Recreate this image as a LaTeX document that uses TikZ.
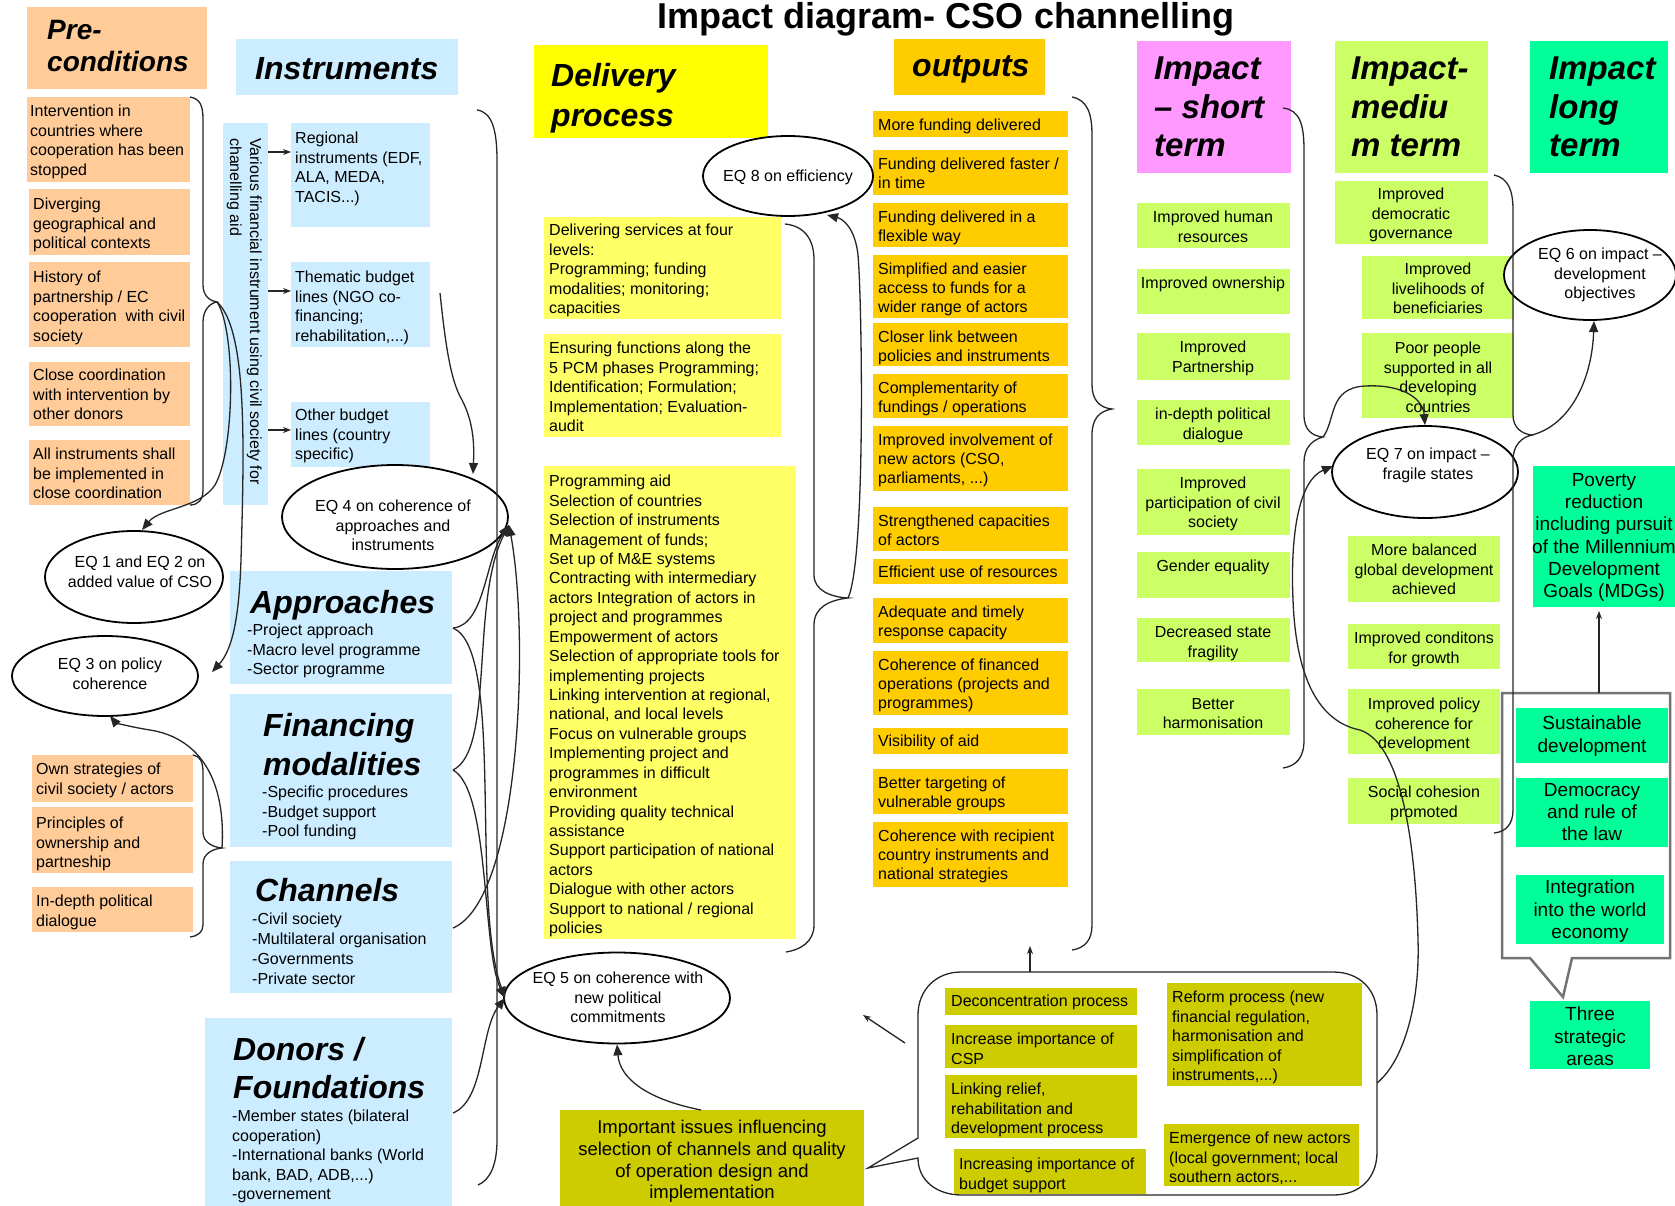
\documentclass[tikz,border=0pt]{standalone}
\usepackage{fontspec}
\setmainfont{Liberation Sans}
\usetikzlibrary{arrows.meta,shapes.geometric,fit,calc}
\definecolor{cOr}{HTML}{FFCC99}
\definecolor{cBl}{HTML}{CCECFF}
\definecolor{cYh}{HTML}{FFFF00}
\definecolor{cYl}{HTML}{FFFF66}
\definecolor{cOu}{HTML}{FFCC00}
\definecolor{cPk}{HTML}{FF99FF}
\definecolor{cLg}{HTML}{CCFF66}
\definecolor{cGr}{HTML}{00FF99}
\definecolor{cOl}{HTML}{CCCC00}
\newcommand\mybox[4]{\node[fit={#2 #3}, inner sep=0pt, outer sep=0pt, fill=#4] (#1) {};}
\tikzset{
  t/.style={inner sep=0pt, font=\fontsize{16}{19.5}\selectfont, align=left, anchor=north west},
  tc/.style={t, align=center, anchor=north},
  tb/.style={inner sep=0pt, font=\fontsize{19}{22.3}\selectfont, align=center, anchor=north},
  hd/.style={inner sep=0pt, font=\fontsize{32}{39}\selectfont\bfseries\itshape, align=left, anchor=north west},
  eq/.style={ellipse, draw=black, line width=1.8pt, fill=white, inner sep=0pt},
  con/.style={draw=black!85, line width=1.3pt},
  arr/.style={con, -{Triangle[length=11pt,width=9pt]}},
  sarr/.style={con, -{Stealth[length=8pt,width=6pt]}},
}
\begin{document}
\begin{tikzpicture}[x=1pt,y=-1pt]
\fill[white] (0,0) rectangle (1675,1206);
\useasboundingbox (0,0) rectangle (1675,1206);

% ---------- title
\node[inner sep=0pt, font=\fontsize{36}{40}\selectfont\bfseries, anchor=base] (title) at (946,29) {Impact diagram- CSO channelling};

% ---------- callouts (background shapes)
\draw[draw=black!55, line width=2.5pt, fill=white] (1502,693) -- (1670,693) -- (1670,958) -- (1572,958) -- (1563,997) -- (1530,958) -- (1502,958) -- cycle;
\coordinate (ctop) at (1599,693);
\draw[con, fill=white] (961,972) -- (1333,972) .. controls (1360,972) and (1377,990) .. (1377,1015) -- (1377,1152) .. controls (1377,1178) and (1360,1195) .. (1333,1195) -- (962,1195) .. controls (936,1195) and (918,1180) .. (918,1158) -- (868,1168) -- (918,1138) -- (918,1015) .. controls (918,990) and (936,972) .. (961,972) -- cycle;
\coordinate (bubtop) at (1030,972);
\coordinate (bubleft) at (905,1043);
\coordinate (bubright) at (1377,1083);

% ---------- Pre-conditions
\mybox{pre}{(27,7)}{(207,89)}{cOr}
\node[hd, font=\fontsize{28}{32}\selectfont\bfseries\itshape] (pre-t) at (47,20) {Pre-\\conditions};
\mybox{intv}{(27,97)}{(190,182)}{cOr}
\node[t] (intv-t) at (30,105) {Intervention in\\countries where\\cooperation has been\\stopped};
\mybox{div}{(29,189)}{(190,255)}{cOr}
\node[t] (div-t) at (33,198) {Diverging\\geographical and\\political contexts};
\mybox{hist}{(29,262)}{(190,347)}{cOr}
\node[t] (hist-t) at (33,271) {History of\\partnership / EC\\cooperation~~with civil\\society};
\mybox{clo}{(29,362)}{(190,426)}{cOr}
\node[t] (clo-t) at (33,369) {Close coordination\\with intervention by\\other donors};
\mybox{all}{(29,440)}{(190,505)}{cOr}
\node[t] (all-t) at (33,448) {All instruments shall\\be implemented in\\close coordination};
\mybox{own}{(32,755)}{(193,802)}{cOr}
\node[t] (own-t) at (36,763) {Own strategies of\\civil society / actors};
\mybox{prin}{(32,807)}{(193,873)}{cOr}
\node[t] (prin-t) at (36,817) {Principles of\\ownership and\\partneship};
\mybox{dep}{(32,887)}{(193,932)}{cOr}
\node[t] (dep-t) at (36,895) {In-depth political\\dialogue};

% ---------- Instruments
\mybox{ins}{(236,39)}{(458,95)}{cBl}
\node[hd] (ins-t) at (255,57) {Instruments};
\mybox{bar}{(223,123)}{(268,505)}{cBl}
\node[t, rotate=-90, font=\fontsize{16}{20}\selectfont] (bar-t) at (262,138) {Various financial instrument using civil society for\\chanelling aid};
\mybox{reg}{(291,123)}{(430,227)}{cBl}
\node[t] (reg-t) at (295,132) {Regional\\instruments (EDF,\\ALA, MEDA,\\TACIS...)};
\mybox{them}{(291,262)}{(430,347)}{cBl}
\node[t] (them-t) at (295,271) {Thematic budget\\lines (NGO co-\\financing;\\rehabilitation,...)};
\mybox{oth}{(291,402)}{(430,467)}{cBl}
\node[t] (oth-t) at (295,409) {Other budget\\lines (country\\specific)};
\mybox{appr}{(230,571)}{(452,684)}{cBl}
\node[hd] (appr-h) at (250,590) {Approaches};
\node[t] (appr-t) at (247,624) {-Project approach\\-Macro level programme\\-Sector programme};
\mybox{fin}{(230,694)}{(452,847)}{cBl}
\node[hd] (fin-h) at (263,713) {Financing\\modalities};
\node[t] (fin-t) at (262,786) {-Specific procedures\\-Budget support\\-Pool funding};
\mybox{chan}{(230,861)}{(452,993)}{cBl}
\node[hd] (chan-h) at (255,878) {Channels};
\node[t, font=\fontsize{16}{19.8}\selectfont] (chan-t) at (252,913) {-Civil society\\-Multilateral organisation\\-Governments\\-Private sector};
\mybox{don}{(205,1018)}{(452,1206)}{cBl}
\node[hd, font=\fontsize{32}{38}\selectfont\bfseries\itshape] (don-h) at (233,1037) {Donors /\\Foundations};
\node[t] (don-t) at (232,1110) {-Member states (bilateral\\cooperation)\\-International banks (World\\bank, BAD, ADB,...)\\-governement};

% ---------- Delivery process
\mybox{delh}{(534,45)}{(768,138)}{cYh}
\node[hd, font=\fontsize{32}{40}\selectfont\bfseries\itshape] (delh-t) at (551,63) {Delivery\\process};
\mybox{del1}{(544,217)}{(781,319)}{cYl}
\node[t] (del1-t) at (549,224) {Delivering services at four\\levels:\\Programming; funding\\modalities; monitoring;\\capacities};
\mybox{del2}{(544,334)}{(781,437)}{cYl}
\node[t] (del2-t) at (549,342) {Ensuring functions along the\\5 PCM phases Programming;\\Identification; Formulation;\\Implementation; Evaluation-\\audit};
\mybox{del3}{(544,466)}{(796,939)}{cYl}
\node[t, font=\fontsize{16}{19.43}\selectfont] (del3-t) at (549,475) {Programming aid\\Selection of countries\\Selection of instruments\\Management of funds;\\Set up of M\&E systems\\Contracting with intermediary\\actors Integration of actors in\\project and programmes\\Empowerment of actors\\Selection of appropriate tools for\\implementing projects\\Linking intervention at regional,\\national, and local levels\\Focus on vulnerable groups\\Implementing project and\\programmes in difficult\\environment\\Providing quality technical\\assistance\\Support participation of national\\actors\\Dialogue with other actors\\Support to national / regional\\policies};

% ---------- Outputs
\mybox{outh}{(894,39)}{(1045,95)}{cOu}
\node[hd, anchor=base west] (outh-t) at (912,77) {outputs};
\tikzset{ot/.style={t, font=\fontsize{16}{19}\selectfont}}
\mybox{o1}{(873,111)}{(1068,137)}{cOu}   \node[ot] (o1-t) at (878,119) {More funding delivered};
\mybox{o2}{(873,150)}{(1068,195)}{cOu}   \node[ot] (o2-t) at (878,158) {Funding delivered faster /\\in time};
\mybox{o3}{(873,203)}{(1068,247)}{cOu}   \node[ot] (o3-t) at (878,211) {Funding delivered in a\\flexible way};
\mybox{o4}{(873,255)}{(1068,318)}{cOu}   \node[ot] (o4-t) at (878,263) {Simplified and easier\\access to funds for a\\wider range of actors};
\mybox{o5}{(873,323)}{(1068,366)}{cOu}   \node[ot] (o5-t) at (878,331) {Closer link between\\policies and instruments};
\mybox{o6}{(873,374)}{(1068,418)}{cOu}   \node[ot] (o6-t) at (878,382) {Complementarity of\\fundings / operations};
\mybox{o7}{(873,426)}{(1068,491)}{cOu}   \node[ot] (o7-t) at (878,434) {Improved involvement of\\new actors (CSO,\\parliaments, ...)};
\mybox{o8}{(873,507)}{(1068,551)}{cOu}   \node[ot] (o8-t) at (878,515) {Strengthened capacities\\of actors};
\mybox{o9}{(873,559)}{(1068,584)}{cOu}   \node[ot] (o9-t) at (878,566) {Efficient use of resources};
\mybox{o10}{(873,598)}{(1068,643)}{cOu}  \node[ot] (o10-t) at (878,606) {Adequate and timely\\response capacity};
\mybox{o11}{(873,651)}{(1068,715)}{cOu}  \node[ot] (o11-t) at (878,659) {Coherence of financed\\operations (projects and\\programmes)};
\mybox{o12}{(873,728)}{(1068,754)}{cOu}  \node[ot] (o12-t) at (878,735) {Visibility of aid};
\mybox{o13}{(873,769)}{(1068,814)}{cOu}  \node[ot] (o13-t) at (878,777) {Better targeting of\\vulnerable groups};
\mybox{o14}{(873,822)}{(1068,887)}{cOu}  \node[ot] (o14-t) at (878,830) {Coherence with recipient\\country instruments and\\national strategies};

% ---------- Impact short term
\mybox{ish}{(1137,41)}{(1291,173)}{cPk}
\node[hd, font=\fontsize{33}{38.5}\selectfont\bfseries\itshape] (ish-t) at (1154,57) {Impact\\-- short\\term};
\mybox{s1}{(1137,203)}{(1290,248)}{cLg} \node[tc] (s1-t) at (1213,211) {Improved human\\resources};
\mybox{s2}{(1137,269)}{(1290,314)}{cLg} \node[tc] (s2-t) at (1213,277) {Improved ownership};
\mybox{s3}{(1137,333)}{(1290,380)}{cLg} \node[tc] (s3-t) at (1213,341) {Improved\\Partnership};
\mybox{s4}{(1137,400)}{(1290,445)}{cLg} \node[tc] (s4-t) at (1213,408) {in-depth political\\dialogue};
\mybox{s5}{(1137,469)}{(1290,535)}{cLg} \node[tc] (s5-t) at (1213,477) {Improved\\participation of civil\\society};
\mybox{s6}{(1137,552)}{(1290,598)}{cLg} \node[tc] (s6-t) at (1213,560) {Gender equality};
\mybox{s7}{(1137,618)}{(1290,662)}{cLg} \node[tc] (s7-t) at (1213,626) {Decreased state\\fragility};
\mybox{s8}{(1137,689)}{(1290,735)}{cLg} \node[tc] (s8-t) at (1213,698) {Better\\harmonisation};

% ---------- Impact medium term
\mybox{imh}{(1335,41)}{(1488,173)}{cLg}
\node[hd, font=\fontsize{33}{38.5}\selectfont\bfseries\itshape] (imh-t) at (1351,57) {Impact-\\mediu\\m term};
\mybox{m1}{(1335,181)}{(1488,244)}{cLg} \node[tc] (m1-t) at (1411,188) {Improved\\democratic\\governance};
\mybox{m2}{(1362,256)}{(1514,319)}{cLg} \node[tc] (m2-t) at (1438,263) {Improved\\livelihoods of\\beneficiaries};
\mybox{m3}{(1362,333)}{(1514,418)}{cLg} \node[tc] (m3-t) at (1438,342) {Poor people\\supported in all\\developing\\countries};
\mybox{m4}{(1348,536)}{(1500,602)}{cLg} \node[tc] (m4-t) at (1424,544) {More balanced\\global development\\achieved};
\mybox{m5}{(1348,624)}{(1500,669)}{cLg} \node[tc] (m5-t) at (1424,632) {Improved conditons\\for growth};
\mybox{m6}{(1348,689)}{(1500,754)}{cLg} \node[tc] (m6-t) at (1424,698) {Improved policy\\coherence for\\development};
\mybox{m7}{(1348,778)}{(1500,824)}{cLg} \node[tc] (m7-t) at (1424,786) {Social cohesion\\promoted};

% ---------- Impact long term
\mybox{ilh}{(1530,41)}{(1668,173)}{cGr}
\node[hd, font=\fontsize{33}{38.5}\selectfont\bfseries\itshape] (ilh-t) at (1549,57) {Impact\\long\\term};
\mybox{pov}{(1533,466)}{(1675,607)}{cGr}
\node[tb] (pov-t) at (1604,473) {Poverty\\reduction\\including pursuit\\of the Millennium\\Development\\Goals (MDGs)};
\mybox{sus}{(1516,708)}{(1668,763)}{cGr}
\node[tb] (sus-t) at (1592,716) {Sustainable\\development};
\mybox{dem}{(1516,778)}{(1668,847)}{cGr}
\node[tb] (dem-t) at (1592,783) {Democracy\\and rule of\\the law};
\mybox{intg}{(1516,875)}{(1664,944)}{cGr}
\node[tb] (intg-t) at (1590,880) {Integration\\into the world\\economy};
\mybox{three}{(1530,1001)}{(1650,1069)}{cGr}
\node[tb] (three-t) at (1590,1007) {Three\\strategic\\areas};

% ---------- bottom olive boxes
\mybox{imp}{(560,1110)}{(864,1206)}{cOl}
\node[tc, font=\fontsize{18.5}{21.7}\selectfont] (imp-t) at (712,1120) {Important issues influencing\\selection of channels and quality\\of operation design and\\implementation};
\mybox{dec}{(945,988)}{(1137,1015)}{cOl}   \node[t] (dec-t) at (951,995) {Deconcentration process};
\mybox{csp}{(945,1025)}{(1137,1068)}{cOl}  \node[t] (csp-t) at (951,1033) {Increase importance of\\CSP};
\mybox{lrrd}{(945,1075)}{(1137,1138)}{cOl} \node[t] (lrrd-t) at (951,1083) {Linking relief,\\rehabilitation and\\development process};
\mybox{bud}{(954,1149)}{(1146,1194)}{cOl}  \node[t] (bud-t) at (959,1158) {Increasing importance of\\budget support};
\mybox{ref}{(1167,983)}{(1362,1086)}{cOl}  \node[t, font=\fontsize{16}{19.4}\selectfont] (ref-t) at (1172,991) {Reform process (new\\financial regulation,\\harmonisation and\\simplification of\\instruments,...)};
\mybox{emg}{(1164,1124)}{(1359,1186)}{cOl} \node[t] (emg-t) at (1169,1132) {Emergence of new actors\\(local government; local\\southern actors,...};

% ---------- evaluation questions
\node[eq, minimum width=170pt, minimum height=80pt] (eq8) at (788,176) {};
\node[inner sep=0pt, font=\fontsize{16}{19.5}\selectfont, anchor=base] (eq8-t) at (788,182) {EQ 8 on efficiency};
\node[eq, minimum width=226pt, minimum height=104pt] (eq4) at (395,517) {};
\node[tc] (eq4-t) at (393,500) {EQ 4 on coherence of\\approaches and\\instruments};
\node[eq, minimum width=178pt, minimum height=92pt] (eq1) at (134,577) {};
\node[tc] (eq1-t) at (140,556) {EQ 1 and EQ 2 on\\added value of CSO};
\node[eq, minimum width=186pt, minimum height=80pt] (eq3) at (105,676) {};
\node[tc] (eq3-t) at (110,658) {EQ 3 on policy\\coherence};
\node[eq, minimum width=226pt, minimum height=91pt] (eq5) at (617,998) {};
\node[tc] (eq5-t) at (618,972) {EQ 5 on coherence with\\new political\\commitments};
\node[eq, minimum width=172pt, minimum height=90pt] (eq6) at (1590,275) {};
\node[tc] (eq6-t) at (1600,248) {EQ 6 on impact --\\development\\objectives};
\node[eq, minimum width=186pt, minimum height=92pt] (eq7) at (1425,472) {};
\node[tc] (eq7-t) at (1428,448) {EQ 7 on impact --\\fragile states};

% ---------- connectors
\coordinate (r1) at (291,152);
\coordinate (r2) at (291,291);
\coordinate (r3) at (291,430);
\draw[sarr] (bar.east |- r1) -- (r1);
\draw[sarr] (bar.east |- r2) -- (r2);
\draw[sarr] (bar.east |- r3) -- (r3);

% left braces
\coordinate (ptip1) at (217,302);
\coordinate (ptip2) at (222,848);
\coordinate (e1in) at (142,530);
\coordinate (e3in) at (212,672);
\coordinate (e3bin) at (110,716);
\draw[con] (intv.north east) .. controls (200,99) and (203,105) .. (203,120) -- (203,285) .. controls (203,296) and (210,301) .. (ptip1) .. controls (210,303) and (203,310) .. (203,322) -- (203,490) .. controls (203,500) and (198,505) .. (all.south east);
\draw[con] (own.north east) .. controls (200,756) and (203,762) .. (203,772) -- (203,832) .. controls (203,842) and (212,847) .. (ptip2) .. controls (212,849) and (203,854) .. (203,864) -- (203,925) .. controls (203,932) and (198,936) .. (190,937);
\draw[arr] (ptip1) .. controls (236,330) and (235,450) .. (215,485) .. controls (200,508) and (160,508) .. (e1in);
\draw[arr] (ptip1) .. controls (248,330) and (244,450) .. (241,560) .. controls (239,620) and (232,650) .. (e3in);
\draw[arr] (ptip2) .. controls (226,780) and (200,738) .. (150,730) .. controls (125,726) and (115,722) .. (e3bin);

% thematic -> EQ4
\coordinate (thx) at (440,293);
\coordinate (e4top) at (473,474);
\draw[arr] (thx) .. controls (445,340) and (450,380) .. (462,400) .. controls (475,425) and (474,450) .. (e4top);

% big middle bracket
\coordinate (mbtop) at (477,110);
\coordinate (mbbot) at (478,1185);
\draw[con] (mbtop) .. controls (492,112) and (497,130) .. (497,160) -- (497,1140) .. controls (497,1165) and (490,1180) .. (mbbot);

% convergence to EQ4 / EQ5
\coordinate (e4in) at (509,525);
\coordinate (e5in) at (505,998);
\coordinate (ap) at (453,628);
\coordinate (fm) at (453,770);
\coordinate (ch) at (453,928);
\coordinate (dn) at (453,1113);
\draw[arr] (ap) .. controls (485,625) and (485,560) .. (e4in);
\draw[arr] (fm) .. controls (495,750) and (470,600) .. (e4in);
\draw[arr] (ch) .. controls (520,900) and (530,640) .. (e4in);
\draw[arr] (ap) .. controls (505,650) and (470,900) .. (e5in);
\draw[arr] (fm) .. controls (490,790) and (482,950) .. (e5in);
\draw[arr] (dn) .. controls (485,1100) and (480,1030) .. (e5in);

% delivery brace and arrow to EQ8
\coordinate (dtop) at (785,224);
\coordinate (dtip) at (848,598);
\coordinate (e8in) at (827,215);
\draw[con] (dtop) .. controls (805,226) and (814,240) .. (814,260) -- (814,575) .. controls (814,590) and (830,597) .. (dtip) .. controls (830,600) and (814,607) .. (814,625) -- (814,925) .. controls (814,942) and (800,950) .. (786,952);
\draw[arr] (dtip) .. controls (866,560) and (862,300) .. (858,255) .. controls (855,228) and (843,219) .. (e8in);

% outputs brace
\coordinate (otip) at (1112,409);
\draw[con] (1072,97) .. controls (1088,100) and (1092,115) .. (1092,135) -- (1092,385) .. controls (1092,400) and (1100,408) .. (otip) .. controls (1100,411) and (1092,418) .. (1092,435) -- (1092,925) .. controls (1092,940) and (1085,948) .. (1072,950);

% impact short brace
\coordinate (stip) at (1323,437);
\draw[con] (1283,108) .. controls (1300,110) and (1304,125) .. (1304,150) -- (1304,415) .. controls (1304,430) and (1312,436) .. (stip) .. controls (1312,440) and (1304,448) .. (1304,462) -- (1304,740) .. controls (1304,758) and (1296,766) .. (1283,768);
\draw[arr] (stip) .. controls (1336,420) and (1328,388) .. (1365,386) .. controls (1405,384) and (1423,400) .. (eq7.north);

% impact medium brace
\coordinate (mtip) at (1532,435);
\coordinate (e6in) at (1594,321);
\draw[con] (1494,175) .. controls (1508,178) and (1513,190) .. (1513,210) -- (1513,415) .. controls (1513,428) and (1522,434) .. (mtip) .. controls (1522,437) and (1513,445) .. (1513,460) -- (1513,810) .. controls (1513,825) and (1505,832) .. (1494,833);
\draw[arr] (mtip) .. controls (1570,425) and (1592,380) .. (e6in);

% bubble -> EQ7
\coordinate (e7in) at (1333,466);
\draw[arr] (bubright) .. controls (1405,1060) and (1420,1000) .. (1418,940) .. controls (1416,860) and (1405,745) .. (1360,730) .. controls (1320,722) and (1296,680) .. (1293,600) .. controls (1290,530) and (1300,480) .. (e7in);

% bubble arrows
\coordinate (bubup) at (1030,946);
\draw[sarr] (bubtop) -- (bubup);
\coordinate (bubarr) at (863,1015);
\draw[sarr] (bubleft) -- (bubarr);
\coordinate (impo) at (701,1110);
\draw[arr] (impo) .. controls (650,1100) and (620,1080) .. (eq5.south);

% three strategic areas -> poverty
\coordinate (povin) at (1599,611);
\draw[sarr] (ctop) -- (povin);
\end{tikzpicture}
\end{document}
